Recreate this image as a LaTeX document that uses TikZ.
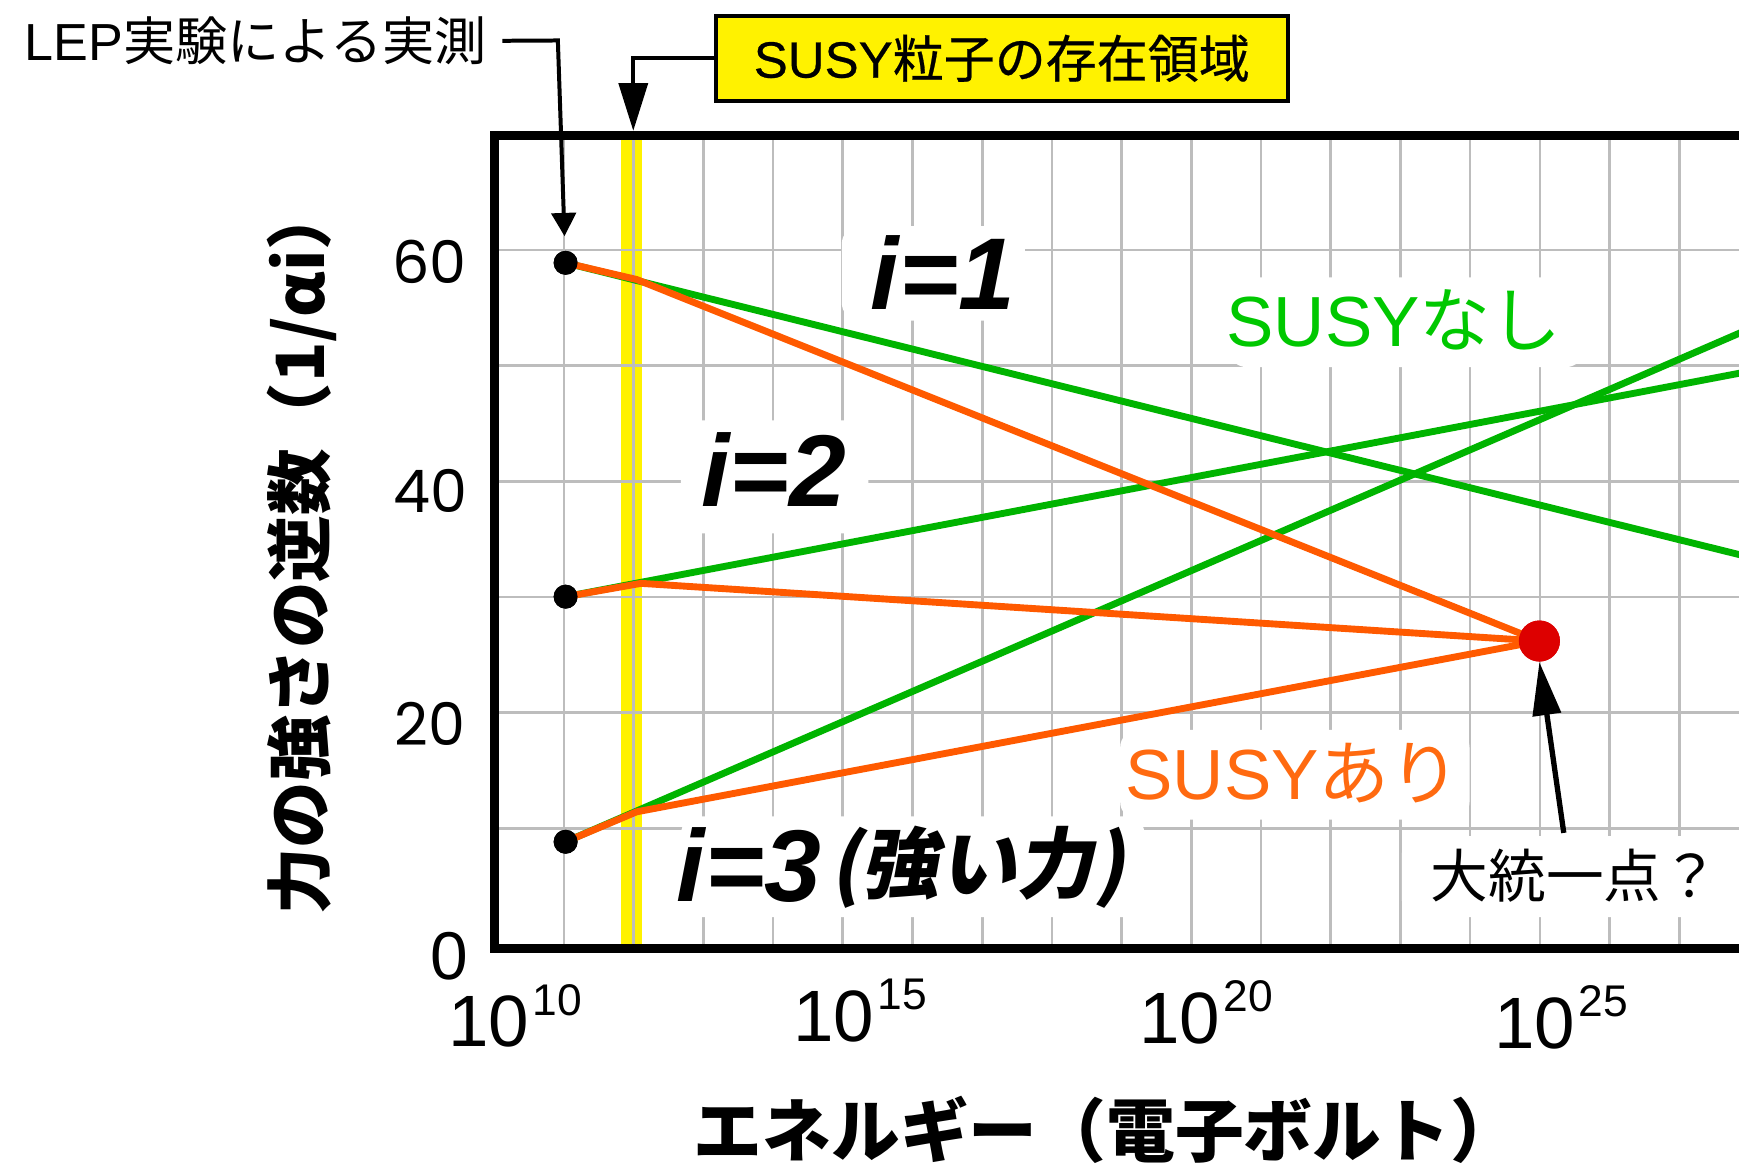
\documentclass[tikz,border=0pt]{standalone}
\usepackage{fontspec}
\usetikzlibrary{arrows.meta}
\newfontfamily\jp{Noto Sans CJK JP}
\newfontfamily\jpm{Noto Sans CJK JP}[FakeBold=0.5]
\newfontfamily\jpsl{Noto Sans CJK JP}[FakeSlant=0.18]
\newfontfamily\lib{Liberation Sans}
\newfontfamily\libm{Liberation Sans}[FakeBold=0.5]
\newfontfamily\pop{Poppins}
\definecolor{gridgray}{HTML}{BDBDBD}
\definecolor{susygreen}{HTML}{00B400}
\definecolor{labelgreen}{HTML}{00C800}
\definecolor{susyorange}{HTML}{FF5A00}
\definecolor{labelorange}{HTML}{FF6A10}
\definecolor{gured}{HTML}{DD0000}
\begin{document}
\begin{tikzpicture}[x=0.5pt,y=-0.5pt,
  gridline/.style={gridgray,line width=1.2pt},
  nosusy/.style={susygreen,line width=3.1pt,line cap=round},
  withsusy/.style={susyorange,line width=3.1pt,line join=round,line cap=round},
  meas/.style={circle,fill=black,inner sep=0pt,minimum size=10.8pt},
  callout/.style={line width=1.8pt},
  backdrop/.style={fill=white,rounded corners=8pt},
  txt/.style={inner sep=0pt},
  ilabel/.style={txt,font=\lib\bfseries\itshape\fontsize{46}{46}\selectfont},
  xtick/.style={txt,anchor=base west,font=\lib\fontsize{32.8}{32.8}\selectfont},
  ytick/.style={txt,font=\pop\fontsize{26.5}{26.5}\selectfont},
]
\useasboundingbox (0,0) rectangle (1568,1052);
\clip (0,0) rectangle (1568,1052);
\fill[white] (0,0) rectangle (1568,1052);

% SUSY band
\fill[yellow] (559.5,126) rectangle (578.5,851);
% grid
\foreach \k in {0,...,17} \draw[gridline] ({508.5+62.85*\k},126) -- ({508.5+62.85*\k},851);
\foreach \j in {0,...,5} \draw[gridline] (450,{225.4+104.3*\j}) -- (1600,{225.4+104.3*\j});

% label backdrops
\fill[backdrop] (759,204) rectangle (924,289);
\fill[backdrop] (614,379) rectangle (783,481);
\fill[backdrop] (614,736) rectangle (1032,827);
\fill[backdrop] (1108,250) rectangle (1428,331);
\fill[backdrop] (1010,658) rectangle (1325,739);
\fill[backdrop] (1264,754) rectangle (1555,827);

% frame
\draw[line width=4pt] (1600,122) -- (446,122) -- (446,855.4) -- (1600,855.4);

% measured points and unification point
\node[meas] (m1) at (510,237) {};
\node[meas] (m2) at (510,538) {};
\node[meas] (m3) at (510,759) {};
\node[circle,fill=gured,inner sep=0pt,minimum size=18.5pt] (gut) at (1388,578) {};
\coordinate (k1) at (574,252);
\coordinate (k2) at (578,526);
\coordinate (k3) at (574,732);
\coordinate (e1) at (1600,508);
\coordinate (e2) at (1600,330.5);
\coordinate (e3) at (1600,286.7);

% no SUSY
\draw[nosusy] (m1.center) -- (e1);
\draw[nosusy] (m2.center) -- (e2);
\draw[nosusy] (m3.center) -- (e3);
% with SUSY
\draw[withsusy] (m1.center) -- (k1) -- (gut.center);
\draw[withsusy] (m2.center) -- (k2) -- (gut.center);
\draw[withsusy] (m3.center) -- (k3) -- (gut.center);
% redraw dots on top
\node[meas] at (m1) {};
\node[meas] at (m2) {};
\node[meas] at (m3) {};
\node[circle,fill=gured,inner sep=0pt,minimum size=18.5pt] at (gut) {};

% labels in plot
\node[ilabel] (l1) at (850.5,245.5) {i=1};
\node[ilabel] (l2) at (697.5,423.5) {i=2};
\node[txt,anchor=base west] (l3) at (610,813) {{\lib\bfseries\itshape\fontsize{46}{46}\selectfont i=3}\hspace{4pt}\raisebox{4pt}{\jpsl\bfseries\fontsize{35}{35}\selectfont (強い力)}};
\node[txt,font=\jp\fontsize{32}{32}\selectfont,text=labelgreen] (nos) at (1257,288.5) {{\lib SUSY}なし};
\node[txt,font=\jp\fontsize{32}{32}\selectfont,text=labelorange] (wis) at (1166,697.5) {{\lib SUSY}あり};
\node[txt,font=\jp\fontsize{26}{26}\selectfont] (gul) at (1420,790) {大統一点？};

% callouts
\node[txt,anchor=east,font=\jp\fontsize{23.5}{23.5}\selectfont] (lep) at (439,36.8) {{\lib LEP}実験による実測};
\coordinate (lepc) at (503,36.5);
\coordinate (leptip) at (509,213);
\draw[callout,-{Triangle[width=11pt,length=10.5pt]}] ([xshift=7pt]lep.east) -- (lepc) -- (leptip);

\node[draw=black,line width=1.8pt,fill=yellow,minimum width=257.7pt,minimum height=38.2pt,inner sep=0pt,font=\jpm\fontsize{23}{23}\selectfont] (susybox) at (903.3,52.6) {{\libm SUSY}粒子の存在領域};
\coordinate (bandtop) at (571,118);
\draw[callout,-{Triangle[width=13pt,length=21.5pt]}] (susybox.west) -| (bandtop);

\coordinate (gutail) at (1410,751);
\draw[line width=2.4pt,-{Triangle[width=12.5pt,length=24pt]}] (gutail) -- (gut.south);

% axes ticks
\node[ytick] (t60) at (387.5,236.5) {60};
\node[ytick] (t40) at (388,443) {40};
\node[ytick] (t20) at (388,653) {20};
\node[txt,font=\lib\fontsize{30.5}{30.5}\selectfont] (t0) at (405,862) {0};
\node[xtick] (x10) at (404,944) {10\hspace{1.5pt}\raisebox{14.3pt}{\fontsize{20}{20}\selectfont 10}};
\node[xtick] (x15) at (715,939) {10\hspace{1.5pt}\raisebox{14.3pt}{\fontsize{20}{20}\selectfont 15}};
\node[xtick] (x20) at (1027,941) {10\hspace{1.5pt}\raisebox{14.3pt}{\fontsize{20}{20}\selectfont 20}};
\node[xtick] (x25) at (1347,945) {10\hspace{1.5pt}\raisebox{14.3pt}{\fontsize{20}{20}\selectfont 25}};

% axis titles
\node[txt,rotate=90,font=\jp\bfseries\fontsize{30}{30}\selectfont] (ylab) at (272,495.5) {力の強さの逆数（1/αi）};
\node[txt,font=\jp\bfseries\fontsize{31}{31}\selectfont] (xlab) at (997.5,1019) {エネルギー（電子ボルト）};
\end{tikzpicture}
\end{document}
